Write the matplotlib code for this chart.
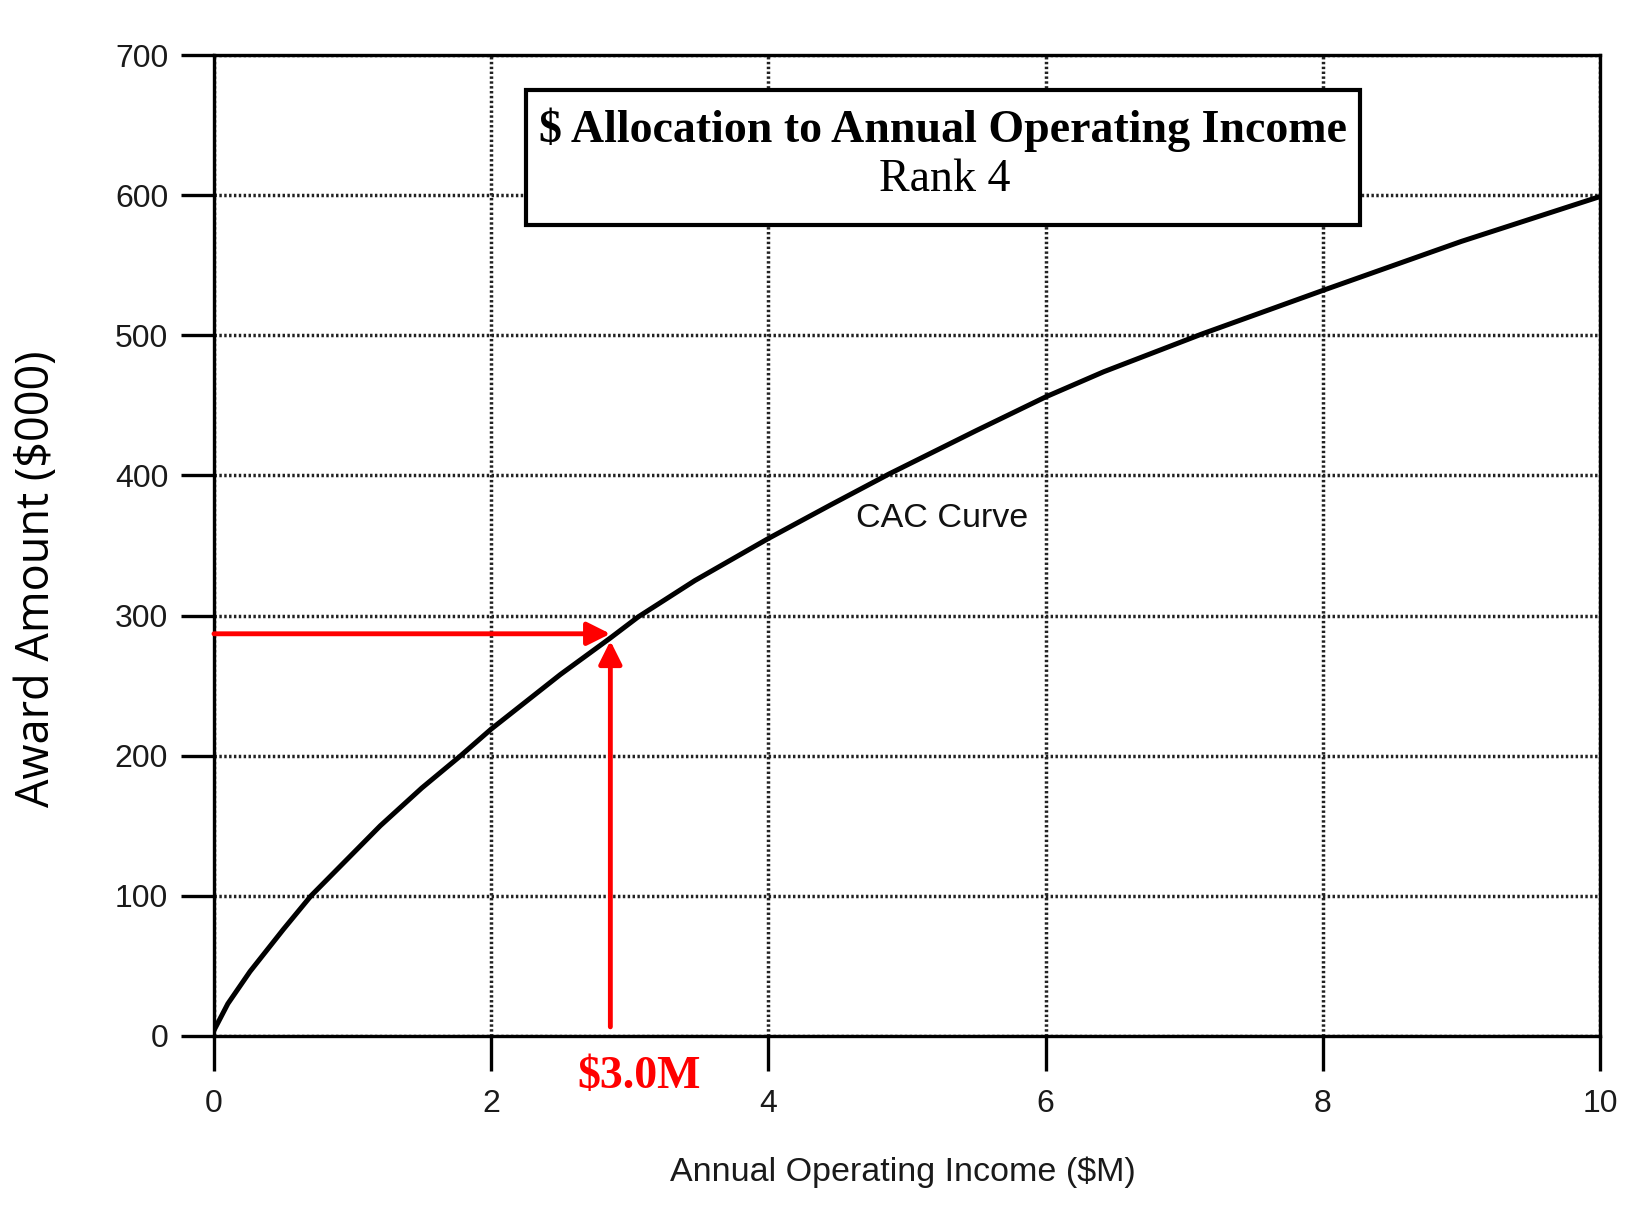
import matplotlib
matplotlib.use("Agg")
import matplotlib.pyplot as plt
from matplotlib.patches import Rectangle

# ---- data ----
income = [0, 0.1, 0.26, 0.5, 0.7, 1.0, 1.2, 1.5, 1.78, 2.0, 2.5, 2.86, 3.06, 3.47,
          4.0, 4.45, 4.87, 5.5, 6.0, 6.42, 7.13, 8.0, 9.0, 9.5, 10.0]
award = [4, 23, 46, 76, 100, 130, 150, 177, 200, 219, 258, 284, 299, 325,
         355, 379, 401, 432, 456, 474, 501, 532, 567, 583, 599]

x_ticks = [0, 2, 4, 6, 8, 10]
x_tick_labels = ["0", "2", "4", "6", "8", "10"]
y_ticks = [0, 100, 200, 300, 400, 500, 600, 700]
y_tick_labels = ["0", "100", "200", "300", "400", "500", "600", "700"]

marker_income = 2.86        # x of the red read-off arrow
marker_award_h = 287        # y of the horizontal red arrow
marker_award_tip = 282      # tip of the vertical red arrow
marker_award_base = 6.5     # base of the vertical red arrow
marker_label = "$3.0M"

title_line1 = "$ Allocation to Annual Operating Income"
title_line2 = "Rank 4"
curve_label = "CAC Curve"
x_label = "Annual Operating Income ($M)"
y_label = "Award Amount ($000)"

# ---- figure ----
fig = plt.figure(figsize=(16.46, 12.07), dpi=100)
fig.patch.set_facecolor("white")
ax = fig.add_axes([0.130, 0.1417, 0.842, 0.8127])
ax.set_xlim(0, 10)
ax.set_ylim(0, 700)

ax.plot(income, award, color="black", lw=3.6, zorder=3,
        solid_capstyle="round", solid_joinstyle="round")

ax.set_xticks(x_ticks)
ax.set_xticklabels(x_tick_labels, fontfamily="Liberation Sans", fontsize=23, color="#1a1a1a")
ax.set_yticks(y_ticks)
ax.set_yticklabels(y_tick_labels, fontfamily="Liberation Sans", fontsize=23, color="#1a1a1a")
ax.tick_params(axis="y", direction="out", length=24, width=2.4, pad=9)
ax.tick_params(axis="x", direction="out", length=25, width=2.4, pad=13)

for s in ax.spines.values():
    s.set_linewidth(2.4)
    s.set_color("black")
    s.set_zorder(4)

ax.grid(True, color="#222222", lw=2.5, linestyle=(0, (0.7, 0.7)), zorder=1)
ax.set_axisbelow(True)

ax.set_xlabel(x_label, fontfamily="Liberation Sans", fontsize=24.5, color="#1a1a1a")
ax.xaxis.set_label_coords(0.497, -0.139)
ax.xaxis.label.set_verticalalignment("center")
ax.set_ylabel(y_label, fontfamily="Open Sans", fontsize=32.5, color="black")
ax.yaxis.set_label_coords(-0.1277, 0.466)
ax.yaxis.label.set_verticalalignment("center")

# title box
box = Rectangle((0.225, 0.827), 0.602, 0.137, transform=ax.transAxes,
                facecolor="white", edgecolor="black", lw=3, zorder=5, clip_on=False)
ax.add_patch(box)
ax.text(0.526, 0.924, title_line1, transform=ax.transAxes, ha="center", va="center",
        fontfamily="Liberation Serif", fontweight="bold", fontsize=33, zorder=6)
ax.text(0.527, 0.873, title_line2, transform=ax.transAxes, ha="center", va="center",
        fontfamily="Liberation Serif", fontsize=33, zorder=6)

# curve label
ax.text(4.63, 369, curve_label, ha="left", va="center",
        fontfamily="Liberation Sans", fontsize=24.5, color="#111111", zorder=6)

# red read-off arrows
arrow_kw = dict(arrowstyle="-|>,head_length=0.7,head_width=0.35", color="#ff0000",
                lw=3.5, shrinkA=0, shrinkB=0, mutation_scale=20)
ax.annotate("", xy=(marker_income, marker_award_h), xytext=(0, marker_award_h),
            arrowprops=arrow_kw, zorder=7)
ax.annotate("", xy=(marker_income, marker_award_tip), xytext=(marker_income, marker_award_base),
            arrowprops=arrow_kw, zorder=7)
ax.text(3.07, -29, marker_label, ha="center", va="center", color="#ff0000",
        fontfamily="Liberation Serif", fontweight="bold", fontsize=33, zorder=7)

fig.savefig("out.png", dpi=100, facecolor="white")
